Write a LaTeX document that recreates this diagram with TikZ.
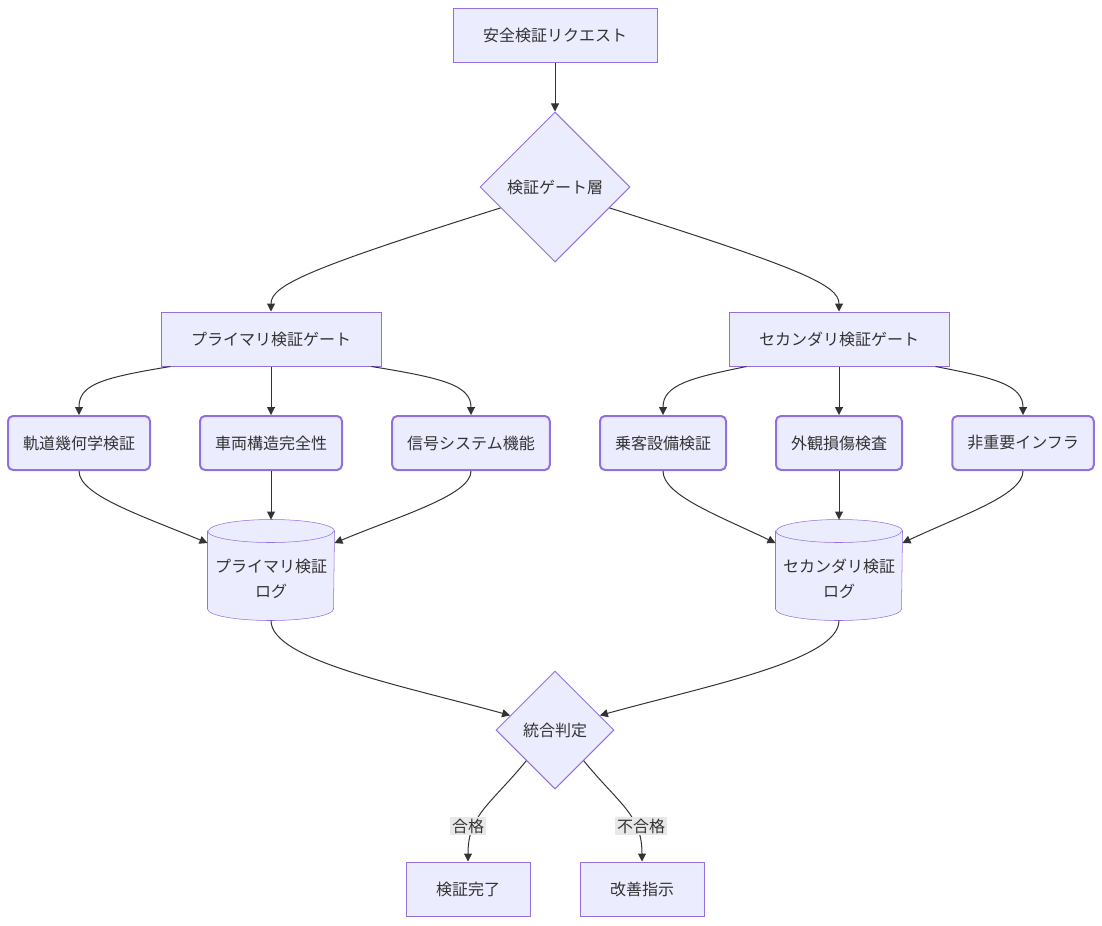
\documentclass[tikz,border=0pt]{standalone}
\usepackage{fontspec}
\newfontfamily\jpfont{Noto Sans CJK JP}
\usetikzlibrary{shapes.geometric,arrows.meta,calc,backgrounds}
\definecolor{boxfill}{HTML}{ECECFF}
\definecolor{boxline}{HTML}{9370DB}
\definecolor{ink}{HTML}{333333}
\definecolor{lblfill}{HTML}{E8E8E8}

\begin{document}
\begin{tikzpicture}[x=.75pt,y=-.75pt,line width=.75pt,font=\jpfont\fontsize{12}{14}\selectfont,text=ink,
  box/.style={rectangle,draw=boxline,fill=boxfill,inner xsep=22.5pt,minimum height=40.5pt},
  leaf/.style={rectangle,rounded corners=3.75pt,draw=boxline,fill=boxfill,line width=1.5pt,inner xsep=11.25pt,minimum height=40.5pt},
  decision/.style={diamond,aspect=1,draw=boxline,fill=boxfill,inner sep=0pt},
  logdb/.style={rectangle,inner sep=0pt,minimum width=94.5pt,minimum height=75pt,align=center,text height=43pt,text depth=1.4pt,font=\jpfont\fontsize{12}{18.75}\selectfont},
  flow/.style={draw=ink,-{Triangle[length=6pt,width=6pt]}},
  lbl/.style={fill=lblfill,inner sep=1.5pt}]
\useasboundingbox (0,0) rectangle (1102,925);
\node[box] (req) at (555,35) {安全検証リクエスト};
\node[decision,minimum width=112.5pt,minimum height=112.5pt] (gl) at (555,187) {検証ゲート層};
\node[box] (pg) at (271,339) {プライマリ検証ゲート};
\node[box] (sg) at (839,339) {セカンダリ検証ゲート};
\node[leaf] (p1) at (79,443) {軌道幾何学検証};
\node[leaf] (p2) at (271,443) {車両構造完全性};
\node[leaf] (p3) at (471,443) {信号システム機能};
\node[leaf] (s1) at (663,443) {乗客設備検証};
\node[leaf] (s2) at (839,443) {外観損傷検査};
\node[leaf] (s3) at (1023,443) {非重要インフラ};
\node[logdb] (pl) at (271,570) {プライマリ検証\\ログ};
\node[logdb] (sl) at (839,570) {セカンダリ検証\\ログ};
\node[decision,minimum width=88.5pt,minimum height=88.5pt] (jd) at (555,730) {統合判定};
\node[box] (ok) at (468,889) {検証完了};
\node[box] (ng) at (642,889) {改善指示};

\begin{scope}[on background layer]
\foreach \c in {pl,sl}{
  \filldraw[draw=boxline,fill=boxfill] ($(\c.north west)+(0,11.5)$) -- ($(\c.south west)+(0,-11.5)$)
    arc[start angle=180,end angle=360,x radius=47.25pt,y radius=8.625pt] -- ($(\c.north east)+(0,11.5)$)
    arc[start angle=0,end angle=180,x radius=47.25pt,y radius=8.625pt] -- cycle;
  \draw[boxline] ($(\c.north west)+(0,11.5)$) arc[start angle=180,end angle=360,x radius=47.25pt,y radius=8.625pt];
}
\end{scope}

\draw[flow] (req) -- (gl);
\draw[flow] (gl.201) .. controls (310,268) and (271,285) .. (pg.north);
\draw[flow] (gl.339) .. controls (800,268) and (839,285) .. (sg.north);
\draw[flow] ($(pg.south west)+(10,0)$) .. controls (100,378) and (79,385) .. (p1.north);
\draw[flow] (pg) -- (p2);
\draw[flow] ($(pg.south east)+(-10,0)$) .. controls (442,378) and (471,385) .. (p3.north);
\draw[flow] ($(sg.south west)+(18,0)$) .. controls (690,378) and (663,385) .. (s1.north);
\draw[flow] (sg) -- (s2);
\draw[flow] ($(sg.south east)+(-14,0)$) .. controls (995,378) and (1023,385) .. (s3.north);
\draw[flow] (p1.south) .. controls (79,495) and (140,515) .. ($(pl.west)+(0,-27)$);
\draw[flow] (p2) -- (pl.north);
\draw[flow] (p3.south) .. controls (471,495) and (402,515) .. ($(pl.east)+(0,-27)$);
\draw[flow] (s1.south) .. controls (663,495) and (717,515) .. ($(sl.west)+(0,-27)$);
\draw[flow] (s2) -- (sl.north);
\draw[flow] (s3.south) .. controls (1023,495) and (962,515) .. ($(sl.east)+(0,-27)$);
\draw[flow] (pl.south) .. controls (271,660) and (400,685) .. (jd.162);
\draw[flow] (sl.south) .. controls (839,660) and (710,685) .. (jd.18);
\draw[flow] (jd.227) .. controls (490,805) and (468,815) .. (ok.north);
\draw[flow] (jd.313) .. controls (620,805) and (642,815) .. (ng.north);
\node[lbl] (lok) at (468,826) {合格};
\node[lbl] (lng) at (641,826) {不合格};
\end{tikzpicture}
\end{document}
